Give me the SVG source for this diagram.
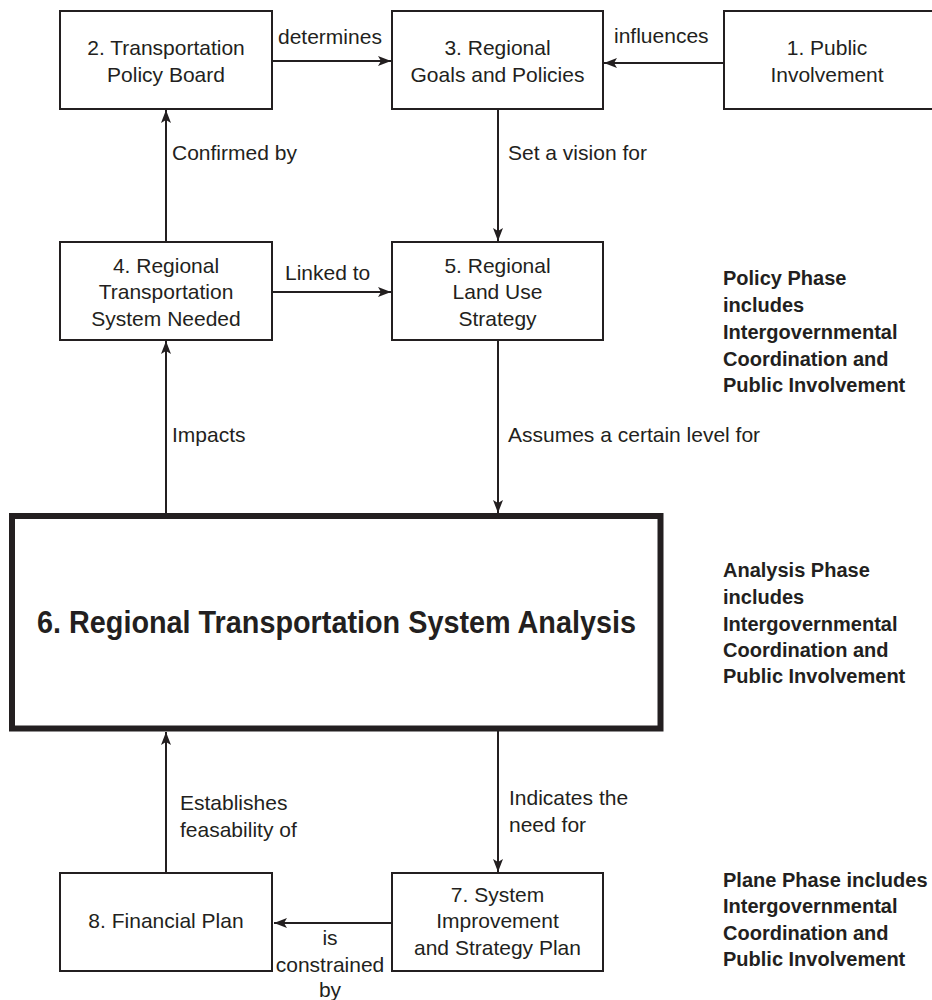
<svg xmlns="http://www.w3.org/2000/svg" width="932" height="1000" viewBox="0 0 932 1000">
  <style>
    .box { fill: #ffffff; stroke: #231f20; stroke-width: 2; }
    .big { fill: #ffffff; stroke: #231f20; stroke-width: 6; }
    .t { font-family: "Liberation Sans", Arial, sans-serif; font-size: 21px; fill: #231f20; }
    .c { text-anchor: middle; }
    .phase { font-family: "Liberation Sans", Arial, sans-serif; font-size: 20px; font-weight: bold; fill: #231f20; }
    .title { font-family: "Liberation Sans", Arial, sans-serif; font-size: 31px; font-weight: bold; fill: #231f20; }
    .edge { stroke: #231f20; stroke-width: 2; fill: none; marker-end: url(#arrow); }
  </style>
  <defs>
    <marker id="arrow" markerUnits="userSpaceOnUse" markerWidth="14" markerHeight="12" refX="13" refY="6" orient="auto">
      <path d="M0,1 L13,6 L0,11 L3,6 Z" fill="#231f20"/>
    </marker>
  </defs>
  <rect width="932" height="1000" fill="#ffffff"/>

  <!-- connectors -->
  <g id="connectors">
    <line class="edge" x1="272" y1="61" x2="391" y2="61"/>
    <line class="edge" x1="724" y1="63" x2="604" y2="63"/>
    <line class="edge" x1="498" y1="109" x2="498" y2="241"/>
    <line class="edge" x1="166" y1="242" x2="166" y2="110"/>
    <line class="edge" x1="272" y1="292" x2="391" y2="292"/>
    <line class="edge" x1="498" y1="340" x2="498" y2="513"/>
    <line class="edge" x1="166" y1="513" x2="166" y2="341"/>
    <line class="edge" x1="166" y1="873" x2="166" y2="732"/>
    <line class="edge" x1="498" y1="731" x2="498" y2="872"/>
    <line class="edge" x1="392" y1="923" x2="274" y2="923"/>

    <text class="t" x="278" y="44">determines</text>
    <text class="t" x="614" y="43">influences</text>
    <text class="t" x="172" y="160">Confirmed by</text>
    <text class="t" x="508" y="160">Set a vision for</text>
    <text class="t" x="285" y="280">Linked to</text>
    <text class="t" x="172" y="442">Impacts</text>
    <text class="t" x="508" y="442">Assumes a certain level for</text>
    <text class="t" x="180" y="810">Establishes</text>
    <text class="t" x="180" y="837">feasability of</text>
    <text class="t" x="509" y="805">Indicates the</text>
    <text class="t" x="509" y="832">need for</text>
    <text class="t c" x="330" y="945">is</text>
    <text class="t c" x="330" y="972">constrained</text>
    <text class="t c" x="330" y="997">by</text>
  </g>

  <!-- nodes -->
  <g id="node1">
    <rect class="box" x="724" y="11" width="220" height="98"/>
    <text class="t c" x="827" y="55">1. Public</text>
    <text class="t c" x="827" y="82">Involvement</text>
  </g>
  <g id="node2">
    <rect class="box" x="60" y="11" width="212" height="98"/>
    <text class="t c" x="166" y="55">2. Transportation</text>
    <text class="t c" x="166" y="82">Policy Board</text>
  </g>
  <g id="node3">
    <rect class="box" x="392" y="11" width="211" height="98"/>
    <text class="t c" x="497.5" y="55">3. Regional</text>
    <text class="t c" x="497.5" y="82">Goals and Policies</text>
  </g>
  <g id="node4">
    <rect class="box" x="60" y="242" width="212" height="98"/>
    <text class="t c" x="166" y="273">4. Regional</text>
    <text class="t c" x="166" y="299">Transportation</text>
    <text class="t c" x="166" y="326">System Needed</text>
  </g>
  <g id="node5">
    <rect class="box" x="392" y="242" width="211" height="98"/>
    <text class="t c" x="497.5" y="273">5. Regional</text>
    <text class="t c" x="497.5" y="299">Land Use</text>
    <text class="t c" x="497.5" y="326">Strategy</text>
  </g>
  <g id="node6">
    <rect class="big" x="12" y="516" width="648.5" height="212.5"/>
    <text class="title" x="37" y="633" textLength="599" lengthAdjust="spacingAndGlyphs">6. Regional Transportation System Analysis</text>
  </g>
  <g id="node7">
    <rect class="box" x="392" y="873" width="211" height="98"/>
    <text class="t c" x="497.5" y="902">7. System</text>
    <text class="t c" x="497.5" y="928">Improvement</text>
    <text class="t c" x="497.5" y="955">and Strategy Plan</text>
  </g>
  <g id="node8">
    <rect class="box" x="60" y="873" width="212" height="98"/>
    <text class="t c" x="166" y="928">8. Financial Plan</text>
  </g>

  <!-- phase notes -->
  <g id="policy-phase">
    <text class="phase" x="723" y="285">Policy Phase</text>
    <text class="phase" x="723" y="312">includes</text>
    <text class="phase" x="723" y="339">Intergovernmental</text>
    <text class="phase" x="723" y="366">Coordination and</text>
    <text class="phase" x="723" y="392">Public Involvement</text>
  </g>
  <g id="analysis-phase">
    <text class="phase" x="723" y="577">Analysis Phase</text>
    <text class="phase" x="723" y="604">includes</text>
    <text class="phase" x="723" y="631">Intergovernmental</text>
    <text class="phase" x="723" y="657">Coordination and</text>
    <text class="phase" x="723" y="683">Public Involvement</text>
  </g>
  <g id="plan-phase">
    <text class="phase" x="723" y="887">Plane Phase includes</text>
    <text class="phase" x="723" y="913">Intergovernmental</text>
    <text class="phase" x="723" y="940">Coordination and</text>
    <text class="phase" x="723" y="966">Public Involvement</text>
  </g>
</svg>
